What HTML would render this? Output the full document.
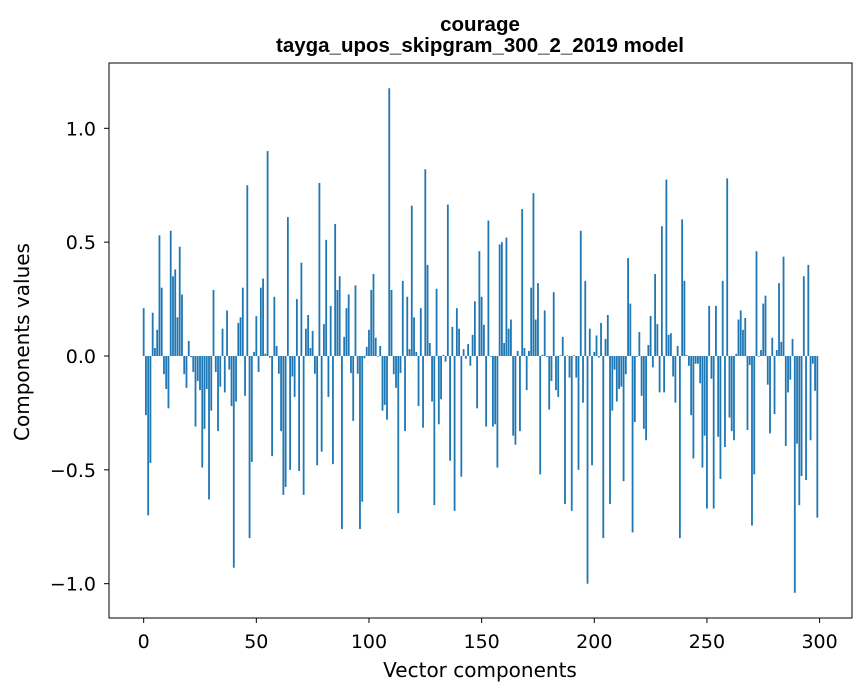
<!DOCTYPE html>
<html><head><meta charset="utf-8">
<style>
html,body{margin:0;padding:0;background:#fff;}
svg{display:block;font-family:"DejaVu Sans","Liberation Sans",sans-serif;}
.ttl{font-family:"Liberation Sans",sans-serif;}
</style></head>
<body>
<svg id="chart" width="867" height="696" viewBox="0 0 867 696">
  <text class="ttl" x="480" y="31" text-anchor="middle" font-size="20.5" font-weight="bold">courage</text>
  <text class="ttl" x="480" y="52" text-anchor="middle" font-size="20.5" font-weight="bold">tayga_upos_skipgram_300_2_2019 model</text>
  <g id="bars"></g>
  <g id="xticks"></g>
  <g id="yticks"></g>
  <rect x="109" y="63" width="743" height="555" fill="none" stroke="#000" stroke-width="1"/>
  <text x="480" y="677" text-anchor="middle" font-size="20">Vector components</text>
  <text x="29" y="342" text-anchor="middle" font-size="20" transform="rotate(-90 29 342)">Components values</text>
</svg>
<script>
const values = [
0.21,-0.26,-0.70,-0.47,0.19,0.035,0.115,0.53,0.30,-0.08,
-0.145,-0.23,0.55,0.35,0.38,0.17,0.48,0.27,-0.08,-0.14,
0.066,-0.005,-0.07,-0.31,-0.11,-0.15,-0.49,-0.32,-0.145,-0.63,
-0.24,0.29,-0.07,-0.33,-0.135,0.12,-0.16,0.20,-0.06,-0.22,
-0.93,-0.20,0.145,0.17,0.30,-0.175,0.75,-0.80,-0.465,0.018,
0.175,-0.07,0.30,0.34,0.01,0.90,-0.007,-0.44,0.26,0.044,
-0.078,-0.33,-0.61,-0.575,0.61,-0.50,-0.09,-0.18,0.25,-0.505,
0.41,-0.61,0.12,0.18,0.035,0.11,-0.078,-0.48,0.76,-0.42,
0.14,0.51,-0.18,0.22,-0.475,0.58,0.29,0.35,-0.76,0.084,
0.21,0.27,-0.075,-0.285,0.31,-0.078,-0.76,-0.64,-0.01,0.04,
0.115,0.29,0.36,0.08,-0.003,0.044,-0.24,-0.215,-0.28,1.176,
0.29,-0.08,-0.14,-0.69,-0.075,0.33,-0.33,0.26,0.03,0.66,
0.17,0.018,-0.22,0.21,-0.315,0.82,0.40,0.057,-0.20,-0.655,
0.295,-0.30,-0.19,0.005,-0.025,0.665,-0.46,0.128,-0.68,0.21,
0.12,-0.53,0.03,-0.012,0.053,-0.043,0.093,0.24,-0.23,0.46,
0.26,0.137,-0.31,0.595,-0.003,-0.31,-0.30,-0.49,0.49,0.50,
0.057,0.52,0.12,0.16,-0.35,-0.39,0.022,-0.33,0.645,0.035,
-0.15,0.022,0.30,0.715,0.16,0.32,-0.52,0.005,0.20,-0.004,
-0.235,-0.11,0.28,-0.15,-0.18,0.003,0.084,-0.65,0.002,-0.095,
-0.68,0.003,-0.095,-0.50,0.55,-0.205,0.33,-1.0,0.12,-0.48,
0.018,0.09,-0.007,0.145,-0.80,0.075,0.18,-0.65,-0.24,-0.06,
-0.20,-0.145,-0.135,-0.55,-0.08,0.43,0.23,-0.775,-0.29,-0.004,
0.105,-0.175,-0.32,-0.37,0.048,0.176,-0.05,0.36,0.14,-0.16,
0.57,-0.16,0.775,0.093,0.10,-0.09,-0.205,0.044,-0.80,0.60,
0.33,0.004,-0.043,-0.26,-0.45,-0.034,-0.034,-0.12,-0.49,-0.35,
-0.67,0.22,-0.10,-0.67,0.22,-0.355,-0.54,0.33,-0.40,0.78,
-0.27,-0.33,-0.37,0.009,0.16,0.20,0.115,0.167,-0.325,-0.04,
-0.745,-0.52,0.46,-0.003,0.026,0.23,0.265,-0.126,-0.34,0.08,
-0.255,0.026,0.32,0.062,0.436,-0.395,-0.16,-0.104,0.075,-1.04,
-0.385,-0.655,-0.527,0.35,-0.545,0.40,-0.37,-0.034,-0.153,-0.71
];
const xTicks = [0,50,100,150,200,250,300];
const yTicks = [-1.0,-0.5,0.0,0.5,1.0];
const yTickLabels = ["\u22121.0","\u22120.5","0.0","0.5","1.0"];

const L=109,R=852,T=63,B=618;
const n=values.length;
const xMin=-0.4-0.05*(n-0.2), xMax=(n-1)+0.4+0.05*(n-0.2);
const vmin=Math.min(0,...values), vmax=Math.max(0,...values);
const pad=(vmax-vmin)*0.05;
const yMin=vmin-pad, yMax=vmax+pad;
const xs=v=>L+(v-xMin)/(xMax-xMin)*(R-L);
const ys=v=>B-(v-yMin)/(yMax-yMin)*(B-T);
const NS="http://www.w3.org/2000/svg";
const gb=document.getElementById('bars');
values.forEach((v,i)=>{
  const r=document.createElementNS(NS,'rect');
  const x0=xs(i-0.4), x1=xs(i+0.4);
  const y0=ys(Math.max(v,0)), y1=ys(Math.min(v,0));
  r.setAttribute('x',x0);r.setAttribute('width',x1-x0);
  r.setAttribute('y',y0);r.setAttribute('height',Math.max(y1-y0,0.3));
  r.setAttribute('fill','#1f77b4');
  
  
  gb.appendChild(r);
});
const gx=document.getElementById('xticks');
xTicks.forEach(t=>{
  const x=xs(t);
  const l=document.createElementNS(NS,'line');
  l.setAttribute('x1',x);l.setAttribute('x2',x);l.setAttribute('y1',B);l.setAttribute('y2',B+5);
  l.setAttribute('stroke','#000');
  
  
  gx.appendChild(l);
  const tx=document.createElementNS(NS,'text');
  tx.setAttribute('x',x);tx.setAttribute('y',B+30);tx.setAttribute('text-anchor','middle');tx.setAttribute('font-size','19');
  tx.textContent=t;
  
  
  gx.appendChild(tx);
});
const gy=document.getElementById('yticks');
yTicks.forEach((t,i)=>{
  const y=ys(t);
  const l=document.createElementNS(NS,'line');
  l.setAttribute('x1',L-5);l.setAttribute('x2',L);l.setAttribute('y1',y);l.setAttribute('y2',y);
  l.setAttribute('stroke','#000');
  
  
  gy.appendChild(l);
  const tx=document.createElementNS(NS,'text');
  tx.setAttribute('x',L-13);tx.setAttribute('y',y+7);tx.setAttribute('text-anchor','end');tx.setAttribute('font-size','19');
  tx.textContent=yTickLabels[i];
  
  
  gy.appendChild(tx);
});
</script>
</body></html>
